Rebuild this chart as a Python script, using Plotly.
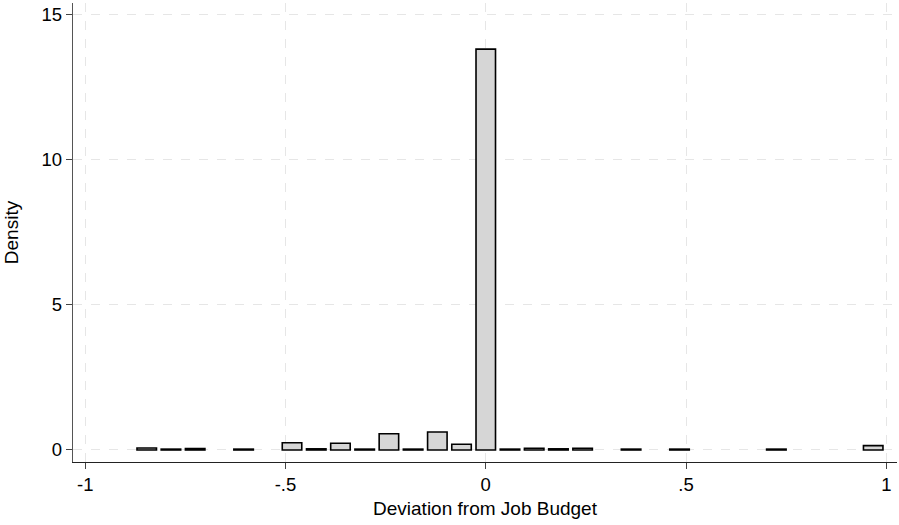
import plotly.graph_objects as go

bin_centers = [-0.8464, -0.7860, -0.7255, -0.6046, -0.4837, -0.4232, -0.3628, -0.3023,
               -0.2418, -0.1814, -0.1209, -0.0605, 0.0, 0.0605, 0.1209, 0.1814, 0.2418,
               0.3628, 0.4837, 0.7255, 0.9673]
density = [0.07, 0.03, 0.05, 0.03, 0.25, 0.04, 0.23, 0.03,
           0.56, 0.03, 0.62, 0.20, 13.82, 0.03, 0.06, 0.04, 0.06,
           0.03, 0.03, 0.03, 0.15]
bar_width = 0.0487

x_ticks = [-1, -0.5, 0, 0.5, 1]
x_ticklabels = ["-1", "-.5", "0", ".5", "1"]
y_ticks = [0, 5, 10, 15]
y_ticklabels = ["0", "5", "10", "15"]

fig = go.Figure(go.Bar(
    x=bin_centers, y=density, width=bar_width,
    marker=dict(color="#d6d6d6", line=dict(color="black", width=1.6)),
))

font = "Liberation Sans, Arial, Helvetica, sans-serif"
fig.update_layout(
    width=899, height=525,
    margin=dict(l=73, r=2, t=3, b=63),
    paper_bgcolor="white", plot_bgcolor="white",
    showlegend=False,
    font=dict(family=font, size=19, color="black"),
    xaxis=dict(
        range=[-1.0305, 1.0267],
        tickvals=x_ticks, ticktext=x_ticklabels,
        ticks="outside", ticklen=6, tickcolor="#444", tickwidth=1,
        showline=True, linecolor="#222", linewidth=1.3,
        showgrid=True, gridcolor="#e6e6e6", griddash="dash", gridwidth=1,
        zeroline=False,
        title=dict(text="Deviation from Job Budget", font=dict(size=19), standoff=7),
        tickfont=dict(size=18.5),
    ),
    yaxis=dict(
        range=[-0.414, 15.41],
        tickvals=y_ticks, ticktext=y_ticklabels,
        ticks="outside", ticklen=6, tickcolor="#444", tickwidth=1,
        showline=True, linecolor="#555", linewidth=1.3,
        showgrid=True, gridcolor="#e6e6e6", griddash="dash", gridwidth=1,
        zeroline=False,
        title=dict(text="Density", font=dict(size=19), standoff=17),
        tickfont=dict(size=18.5),
    ),
)

fig.write_html("out.html")
